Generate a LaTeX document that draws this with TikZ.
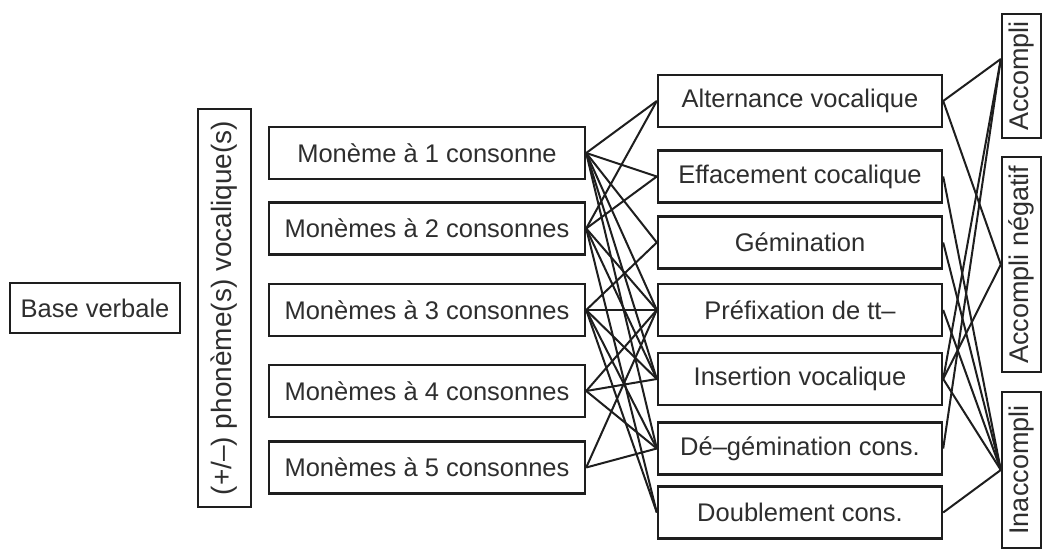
\documentclass[tikz,border=0pt]{standalone}
\usepackage{fontspec}
\setmainfont{Liberation Sans}
\usetikzlibrary{calc}
\definecolor{ink}{HTML}{1E1E1E}
\definecolor{txt}{HTML}{2E2E2E}
\tikzset{
  box/.style={draw=ink, line width=2.4pt, inner sep=0pt, minimum height=52pt,
    text=txt, font=\fontsize{25.5}{30}\selectfont},
  vbox/.style={box, rotate=90, minimum height=39pt, font=\fontsize{27}{32}\selectfont},
  link/.style={draw=ink, line width=2pt},
}
\begin{document}
\begin{tikzpicture}[x=1pt,y=-1pt]
\useasboundingbox (0,0) rectangle (1044,553);
\fill[white] (0,0) rectangle (1044,553);

% base and vowel column
\node[box, minimum width=170pt, minimum height=50pt] (base) at (95,308) {Base verbale};
\node[box, rotate=90, minimum width=398pt, minimum height=53pt, font=\fontsize{28}{32}\selectfont]
  (voc) at (224.5,308) {(+/–) phonème(s) vocalique(s)};

% monemes
\foreach \n/\y/\t in {m1/153/{Monème à 1 consonne},
                      m2/228.5/{Monèmes à 2 consonnes},
                      m3/310/{Monèmes à 3 consonnes},
                      m4/391/{Monèmes à 4 consonnes},
                      m5/467.5/{Monèmes à 5 consonnes}}
  \node[box, minimum width=316pt] (\n) at (427,\y) {\t};

% processes
\foreach \n/\y/\t in {alt/101/{Alternance vocalique},
                      eff/176.5/{Effacement cocalique},
                      gem/242.5/{Gémination},
                      pre/310/{Préfixation de tt–},
                      ins/379/{Insertion vocalique},
                      deg/448.5/{Dé–gémination cons.},
                      dou/512.5/{Doublement cons.}}
  \node[box, minimum width=284pt] (\n) at (800,\y) {\t};

% aspects
\node[vbox, minimum width=124pt] (acc) at (1021.5,76) {Accompli};
\node[vbox, minimum width=215pt] (neg) at (1021.5,264.5) {Accompli négatif};
\node[vbox, minimum width=156pt] (ina) at (1021.5,470) {Inaccompli};
\coordinate (accin) at ($(acc.north)+(0,-17)$);

% monemes -> processes
\foreach \a/\b in {m1/alt, m1/eff, m1/gem, m1/pre, m1/ins, m1/deg,
                   m2/alt, m2/eff, m2/pre, m2/ins, m2/dou,
                   m3/gem, m3/pre, m3/ins, m3/deg, m3/dou,
                   m4/pre, m4/ins, m4/deg,
                   m5/pre, m5/deg}
  \draw[link] (\a.east) -- (\b.west);

% processes -> aspects
\draw[link] (alt.east) -- (accin);
\draw[link] (alt.east) -- (neg.north);
\draw[link] (eff.east) -- (ina.north);
\draw[link] (gem.east) -- (ina.north);
\draw[link] (pre.east) -- (ina.north);
\draw[link] (ins.east) -- (accin);
\draw[link] (ins.east) -- (neg.north);
\draw[link] (ins.east) -- (ina.north);
\draw[link] (deg.east) -- (accin);
\draw[link] (dou.east) -- (ina.north);
\end{tikzpicture}
\end{document}
